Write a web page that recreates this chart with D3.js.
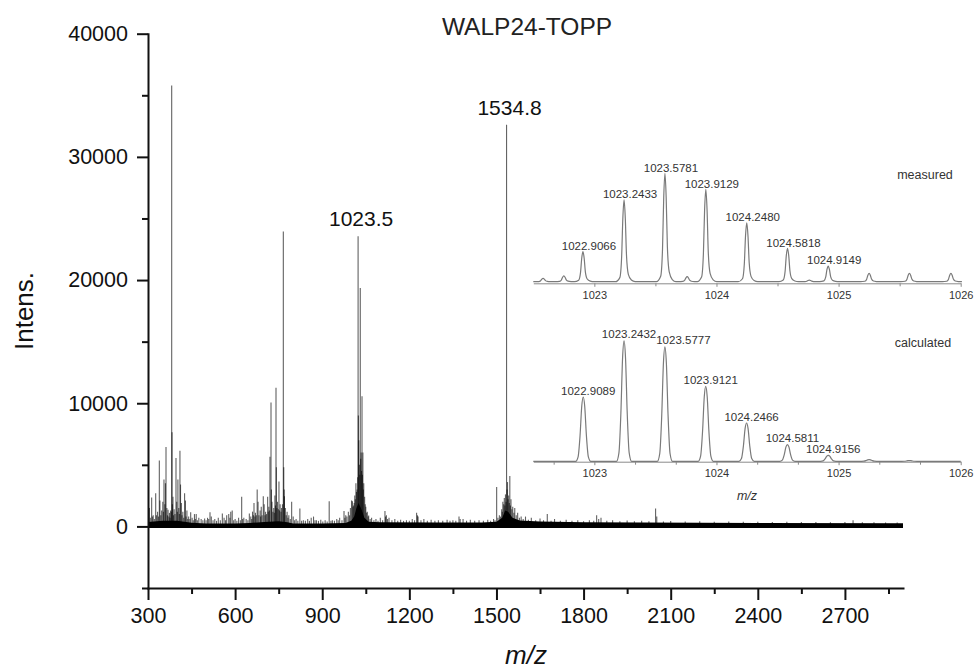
<!DOCTYPE html>
<html>
<head>
<meta charset="utf-8">
<script src="https://cdn.jsdelivr.net/npm/d3@7"></script>
<style>
  html, body { margin: 0; padding: 0; background: #fff; }
  svg { display: block; }
  text { font-family: "Liberation Sans", Arial, sans-serif; }
</style>
</head>
<body>
<svg id="chart" width="976" height="671"></svg>
<script>
// ---------------- DATA ----------------
const chartTitle = "WALP24-TOPP";
const xTicks = [300, 600, 900, 1200, 1500, 1800, 2100, 2400, 2700];
const xMinorTicks = [450, 750, 1050, 1350, 1650, 1950, 2250, 2550, 2850];
const yTicks = [0, 10000, 20000, 30000, 40000];
const yMinorTicks = [-5000, 5000, 15000, 25000, 35000];

// main spectrum: stick peaks [m/z, intensity]
const mainPeaks = [
  [305,1500],[308,700],[312.6,2350],[315,800],[318,900],[322,600],[326.5,2700],[329,900],[333,1200],[336,800],[339,5350],[341,2100],[344,900],[347,1300],
  [351,2000],[353,1200],[355,3800],[358,1800],[360,3500],[362,6450],[365,1500],[367,900],[369,1350],[372,800],[374,1100],[376,700],[378,1300],[380,1200],
  [381.6,35800],[382.8,7650],[384,1800],[386,2400],[388,900],[390,1400],[393,1000],[396.4,5550],[399,2000],[401,1200],[403,3800],[406,1500],
  [408,1000],[410,6150],[412,3400],[415,1900],[417,900],[420,1200],[423,700],[426,2700],[429,2100],[431,800],[434,1300],[437,600],[440,800],
  [444,600],[447,1150],[452,700],[456,500],[460,1000],[463,600],[466,1000],[470,500],[475,700],[483,600],[489,500],[495,650],[500,500],[505,700],
  [509,600],[513.5,1150],[518,800],[524,500],[530,600],[536,450],[542,700],[549,500],[556,1050],[562,700],[567,500],[571,900],[578,1000],
  [582,700],[585,1200],[590,1300],[595,500],[600,600],[606,450],[612,700],[618,500],[622.6,2400],[626,600],[630,700],[638,600],[644,500],[649,1050],
  [654,800],[657,600],[660,1200],[663,900],[665,1900],[668,800],[670,1100],[673,900],[676,3000],[679,2000],[682,900],[686,1300],[688,800],[690,1600],[693,900],
  [697,2450],[700,1800],[703,900],[705,1200],[708,1000],[712,2400],[714,1200],[716,1600],[718,1300],[720,5650],[723.6,10050],[725,3000],[727,2000],[730,1200],
  [733,1500],[735,1100],[737,2500],[739,1700],[740.8,11250],[742,4800],[744,1500],[746,2000],[749,1400],[751,3650],[753,1300],[755,1800],[758,1200],[760,1500],
  [763,1800],[766,23950],[767.5,4800],[769,3000],[770,2450],[773,1500],[776,900],[779,1200],[782,700],[785,900],[790,600],[794.7,2000],[800,800],
  [805,500],[810,600],[816,450],[823,1450],[829,450],[835,500],[842,450],[850,600],[856,450],[862,700],[870,800],[875,500],[880,500],[887,450],[895,550],
  [902,400],[910,500],[917,400],[924,2050],[930,450],[935,500],[942,450],[950,600],[955,500],[960,700],[968,500],[975,1250],[978,700],[981,900],[985,800],[990,1200],
  [994,900],[997,1500],[1001,2100],[1004,2050],[1006,1600],[1008,1700],[1010,1900],[1012,2500],[1014,2200],[1016,3500],[1018,2800],[1020,3000],[1022,4000],
  [1023.5,23550],[1024.5,9000],[1026,7000],[1028,5000],[1029.5,4200],[1031,19350],[1032.5,5500],[1034,6000],[1035.5,4500],[1037,10560],[1038.5,4200],[1040,6000],
  [1041.5,3000],[1043,3500],[1046,2400],[1048,1800],[1050,1600],[1053,1100],[1055,1200],[1058,800],[1060,880],[1065,600],[1070,700],[1078,500],[1085,600],[1092,450],[1100,700],
  [1108,500],[1116,1250],[1118,800],[1121,900],[1125,600],[1130,700],[1140,500],[1150,600],[1160,450],[1170,550],[1180,450],[1190,500],[1200,450],[1210,600],[1218,500],[1225,1100],
  [1228,900],[1230,800],[1240,500],[1250,600],[1262,450],[1275,550],[1288,450],[1300,500],[1315,450],[1330,550],[1340,450],[1350,500],[1360,450],[1371,800],[1375,600],[1385,600],
  [1397,450],[1410,550],[1425,450],[1440,500],[1455,450],[1470,550],[1480,450],[1490,600],[1495,500],[1500.7,3200],[1505,700],[1510,900],[1514,800],[1518,1400],[1520,1200],[1522,2000],
  [1525,1800],[1527,2300],[1529,1700],[1531,2600],[1533,2000],[1534.8,32600],[1536.5,3000],[1538,3600],[1540,2200],[1542,2500],[1544,1900],[1546,4100],[1548,1700],[1550,2200],
  [1553,1400],[1556,1600],[1560,1100],[1563,1500],[1568,900],[1573,1100],[1579,700],[1585,800],[1592,600],[1600,800],[1610,550],[1620,700],[1635,500],[1650,650],[1662,500],[1675,1000],
  [1688,450],[1700,600],[1720,450],[1740,550],[1760,450],[1780,500],[1800,420],[1820,500],[1835,450],[1845,900],[1852,600],[1860,700],[1880,450],[1900,500],[1925,420],[1950,480],
  [1975,420],[2000,450],[2025,420],[2048,1450],[2052,800],[2075,400],[2100,430],[2150,400],[2200,420],[2250,380],[2300,400],[2350,370],[2400,380],[2450,360],[2500,380],
  [2550,350],[2600,360],[2650,340],[2700,350],[2728,500],[2760,330],[2800,330],[2840,320],[2880,320]
];
// baseline noise envelope [m/z, upper level]
const noiseEnvelope = [
  [300,350],[350,450],[400,450],[450,300],[500,230],[600,230],[650,280],[700,350],[750,420],[780,330],
  [800,230],[900,230],[980,280],[1000,450],[1010,800],[1018,1500],[1025,1900],[1035,1400],[1045,700],
  [1060,380],[1100,330],[1300,310],[1450,310],[1500,380],[1520,700],[1530,1300],[1540,1200],[1555,700],
  [1580,480],[1650,400],[1800,340],[2000,310],[2400,280],[2900,250]
];
const mainLabels = [[1023.5,23550,"1023.5"],[1534.8,32600,"1534.8"]];

// insets (relative intensity, %)
const insetTicks = [1023, 1024, 1025, 1026];
const measuredMinor = [1023.5, 1024.5, 1025.5];
const calculatedMinor = [1022.6667, 1023.3333, 1023.6667, 1024.3333, 1024.6667, 1025.3333, 1025.6667];
const measuredPeaks = [
  [1022.58,3.1],[1022.75,5.3],[1022.9066,27.7],[1023.2433,75.4],[1023.5781,100],
  [1023.76,4.6],[1023.9129,85.2],[1024.2480,54.4],[1024.5818,30.8],[1024.76,1.5],
  [1024.9149,14.5],[1025.25,7.7],[1025.58,7.7],[1025.92,7.7]
];
const measuredLabels = ["1022.9066","1023.2433","1023.5781","1023.9129","1024.2480","1024.5818","1024.9149"];
const calculatedPeaks = [
  [1022.9089,53.4],[1023.2432,100],[1023.5777,95],[1023.9121,62.3],[1024.2466,31.8],
  [1024.5811,13.9],[1024.9156,5],[1025.25,1.4],[1025.58,0.6]
];
const calculatedLabels = ["1022.9089","1023.2432","1023.5777","1023.9121","1024.2466","1024.5811","1024.9156"];

// ---------------- DRAW ----------------
const svg = d3.select("#chart");
const font = '"Liberation Sans", Arial, sans-serif';

const x = d3.scaleLinear().domain([300, 2900]).range([148, 903]);
const y = d3.scaleLinear().domain([-5000, 40000]).range([588, 33.7]);

// noise band
const noiseArea = d3.area()
  .x(d => x(d[0])).y0(() => y(-120)).y1(d => y(d[1]));
svg.append("path").datum(noiseEnvelope)
  .attr("d", noiseArea).attr("fill", "#000");

// peaks
svg.append("g").selectAll("line").data(mainPeaks).join("line")
  .attr("x1", d => x(d[0])).attr("x2", d => x(d[0]))
  .attr("y1", y(0)).attr("y2", d => y(d[1]))
  .attr("stroke", "#000").attr("stroke-opacity", 0.62).attr("stroke-width", 1.1);

// axes
const gy = svg.append("g").attr("transform", `translate(${x(300)},0)`);
gy.call(d3.axisLeft(y).tickValues(yTicks).tickSize(11).tickSizeOuter(0).tickPadding(9).tickFormat(d3.format("d")));
gy.append("g").call(d3.axisLeft(y).tickValues(yMinorTicks).tickSize(6).tickFormat(""))
  .select(".domain").remove();
const gx = svg.append("g").attr("transform", `translate(0,${y(-5000)})`);
gx.call(d3.axisBottom(x).tickValues(xTicks).tickSize(12).tickSizeOuter(0).tickPadding(8).tickFormat(d3.format("d")));
gx.append("g").call(d3.axisBottom(x).tickValues(xMinorTicks).tickSize(6).tickFormat(""))
  .select(".domain").remove();
[gx, gy].forEach(g => {
  g.selectAll("path,line").attr("stroke", "#111").attr("stroke-width", 2);
  g.selectAll("text").attr("font-size", "21.5px").attr("fill", "#111").attr("font-family", font);
});
svg.selectAll(".domain").attr("stroke-linecap", "square");

// axis titles
svg.append("text").attr("transform", "translate(33,311) rotate(-90)")
  .attr("text-anchor", "middle").attr("font-size", "26px").attr("fill", "#111").text("Intens.");
svg.append("text").attr("x", 526).attr("y", 664).attr("text-anchor", "middle")
  .attr("font-size", "26px").attr("font-style", "italic").attr("fill", "#111").text("m/z");

// title
svg.append("text").attr("x", 527).attr("y", 35).attr("text-anchor", "middle")
  .attr("font-family", '"Open Sans", sans-serif').attr("font-size", "24.5px").attr("fill", "#222")
  .text(chartTitle);

// main peak labels
svg.selectAll(".plabel").data(mainLabels).join("text")
  .attr("x", d => x(d[0]) + 3).attr("y", d => y(d[1]) - 10)
  .attr("text-anchor", "middle").attr("font-size", "21px").attr("fill", "#111")
  .text(d => d[2]);

// ---------------- INSETS ----------------
const xi = d3.scaleLinear().domain([1022.5, 1026]).range([533.3, 960.7]);
const measuredShape = [[-0.07,0],[-0.035,0.05],[-0.02,0.3],[-0.01,0.78],[0,1],[0.01,0.78],[0.02,0.32],[0.035,0.09],[0.06,0.02],[0.09,0]];
const calculatedShape = [[-0.062,0],[-0.042,0.07],[-0.026,0.4],[-0.012,0.86],[0,1],[0.012,0.86],[0.026,0.4],[0.042,0.07],[0.062,0]];

function profile(peaks, shape) {
  const pts = [[1022.5, 0]];
  peaks.forEach(p => shape.forEach(s => pts.push([p[0] + s[0], p[1] * s[1]])));
  pts.push([1026, 0]);
  return pts;
}

function drawInset(cfg) {
  const yi = d3.scaleLinear().domain([0, 100]).range([cfg.y0, cfg.y100]);
  const g = svg.append("g");
  const ax = g.append("g").attr("transform", `translate(0,${cfg.axisY})`);
  ax.call(d3.axisBottom(xi).tickValues(insetTicks).tickSize(3.5).tickSizeOuter(0).tickPadding(4).tickFormat(d3.format("d")));
  ax.append("g").call(d3.axisBottom(xi).tickValues(cfg.minor).tickSize(3).tickFormat("")).select(".domain").remove();
  ax.selectAll("path,line").attr("stroke", "#8a8a8a").attr("stroke-width", 1);
  ax.selectAll("text").attr("font-size", "11px").attr("fill", "#333").attr("font-family", font);
  const line = d3.line().x(d => xi(d[0])).y(d => yi(d[1])).curve(d3.curveMonotoneX);
  g.append("path").datum(profile(cfg.peaks, cfg.shape))
    .attr("d", line).attr("fill", "none").attr("stroke", "#7a7a7a").attr("stroke-width", 1.2);
  const labelled = cfg.peaks.filter(p => cfg.labels.includes(p[0].toFixed(4)));
  g.selectAll(".lab").data(labelled).join("text")
    .attr("x", d => xi(d[0]) + (cfg.nudge[d[0].toFixed(4)] || cfg.dx))
    .attr("y", d => yi(d[1]) + cfg.dy)
    .attr("text-anchor", "middle").attr("font-size", "11.5px").attr("fill", "#333")
    .text(d => d[0].toFixed(4));
  g.append("text").attr("x", cfg.nameX).attr("y", cfg.nameY).attr("text-anchor", "middle")
    .attr("font-size", "12.5px").attr("fill", "#333").text(cfg.name);
}

drawInset({ peaks: measuredPeaks, labels: measuredLabels, shape: measuredShape, minor: measuredMinor,
  y0: 281.7, y100: 173.3, axisY: 283.3, dx: 6, dy: -1.5, nudge: {},
  name: "measured", nameX: 925, nameY: 179 });
drawInset({ peaks: calculatedPeaks, labels: calculatedLabels, shape: calculatedShape, minor: calculatedMinor,
  y0: 461.3, y100: 340.9, axisY: 461.7, dx: 5, dy: -2.5, nudge: {"1023.5777": 18.5},
  name: "calculated", nameX: 923, nameY: 347 });

svg.append("text").attr("x", 747).attr("y", 500).attr("text-anchor", "middle")
  .attr("font-size", "12.5px").attr("font-style", "italic").attr("fill", "#333").text("m/z");
</script>
</body>
</html>
